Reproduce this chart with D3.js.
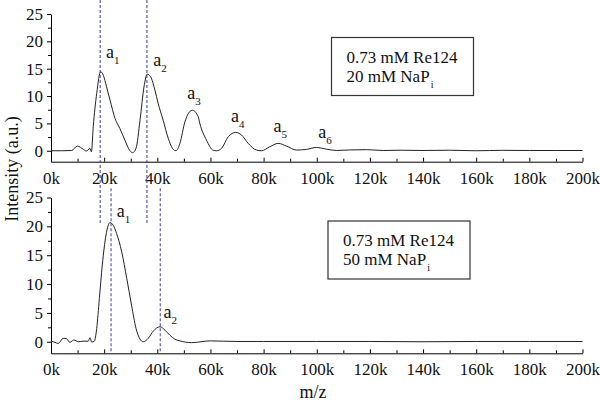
<!doctype html>
<html>
<head>
    <title>Intensity vs m/z</title>
    <script src="https://d3js.org/d3.v7.min.js"></script>
    <style>
      body { margin: 0; background: white; }
      text { font-family: "Liberation Serif", "Times New Roman", serif; fill: #111; }
    </style>
</head>
<body>
    <script>
    var width = 600, height = 401;

    // top panel: 20 mM NaPi  (m/z, intensity)
    var topMz  = [0, 4000, 7800, 9900, 12200, 13300, 14700, 15200, 15900, 17200, 18700, 19700, 20900, 22200, 24100, 25900, 27800, 29700, 30700, 32000, 33500, 35000, 36200, 37500, 39100, 40300, 42200, 44100, 46000, 47000, 48500, 50400, 52300, 53300, 55400, 56000, 58500, 61000, 62300, 64200, 66700, 69500, 71700, 74200, 77300, 79200, 82300, 85500, 88600, 92400, 96100, 99900, 103600, 107400, 112400, 118700, 125000, 132000, 140000, 150000, 160000, 170000, 180000, 190000, 200000];
    var topInt = [0, 0, 0.05, 0.86, 0.25, -0.05, 0.4, -0.2, 4.4, 10.5, 14.45, 13.8, 11.7, 9.3, 5.9, 4.1, 1.95, 0, -0.35, 0.45, 5.6, 11.7, 14.0, 13.5, 11.1, 8.7, 5.6, 2.3, 0.25, 0, 1.35, 5.3, 7.2, 7.4, 6.2, 5.0, 1.95, 0.1, 0, 0.44, 2.56, 3.35, 2.87, 1.35, 0.13, 0, 0.73, 1.35, 0.86, 0.13, 0.25, 0.6, 0.3, 0.05, 0.15, 0.2, 0.05, 0.1, 0.05, 0.1, 0.0, 0.08, 0.05, 0.05, 0.05];

    // bottom panel: 50 mM NaPi
    var botMz  = [0, 1500, 2700, 4600, 5900, 7100, 8600, 10300, 12100, 14000, 14700, 15300, 16300, 17200, 18200, 19300, 20700, 22200, 23400, 24700, 26600, 28500, 30300, 32000, 33500, 34700, 36600, 38500, 41000, 42900, 44700, 46600, 48500, 52900, 60000, 70000, 80000, 100000, 120000, 140000, 160000, 180000, 200000];
    var botInt = [0.1, -0.1, -0.3, 0.6, 0.5, -0.1, 0.3, 0.0, 0.1, 0.1, 0.7, -0.05, 0.1, 2.3, 7.5, 13.3, 18.5, 20.65, 20.2, 18.75, 15.6, 11.0, 6.35, 2.3, 0.46, 0, 0.6, 1.85, 2.6, 2.0, 1.15, 0.45, 0.15, -0.15, 0.15, 0.05, 0.05, 0.05, 0.05, 0.0, 0.05, 0.05, 0.05];

    // peak labels [m/z, intensity, subscript]
    var topPeaks = [[20700, 16.9, "1"], [38500, 15.55, "2"], [51300, 9.4, "3"], [67700, 5.2, "4"], [83700, 3.5, "5"], [100600, 2.4, "6"]];
    var botPeaks = [[24700, 21.7, "1"], [42300, 4.2, "2"]];

    // dashed guide positions (m/z)
    var topGuides = [18500, 36100];
    var botGuides = [22600, 41100];

    var xMajor = d3.range(0, 200001, 20000);
    var xMinor = d3.range(10000, 200000, 20000);
    var yMajor = [0, 5, 10, 15, 20, 25];
    var yMinor = [2.5, 7.5, 12.5, 17.5, 22.5];

    var svg = d3.select("body").append("svg")
                .attr("width", width)
                .attr("height", height);

    var x = d3.scaleLinear().domain([0, 200000]).range([51, 582.5]);
    var yTop = d3.scaleLinear().domain([-2, 25]).range([161.7, 14]);
    var yBot = d3.scaleLinear().domain([-2, 25]).range([353.3, 197.5]);

    function drawPanel(y, mz, inten, peaks, guides, guideTop, guideBottom, boxY, line2) {
      // x axis, ticks point inward
      var xAxis = svg.append("g").attr("transform", "translate(0," + y(-2) + ")")
        .call(d3.axisBottom(x).tickValues(xMajor).tickSizeInner(-4).tickSizeOuter(0).tickPadding(10)
              .tickFormat(function(d){ return (d / 1000) + "k"; }));
      svg.append("g").attr("transform", "translate(0," + y(-2) + ")")
        .call(d3.axisBottom(x).tickValues(xMinor).tickSizeInner(-3).tickSizeOuter(0).tickFormat(""))
        .select(".domain").remove();

      var yAxis = svg.append("g").attr("transform", "translate(" + x(0) + ",0)")
        .call(d3.axisLeft(y).tickValues(yMajor).tickSize(4).tickSizeOuter(0).tickPadding(4));
      svg.append("g").attr("transform", "translate(" + x(0) + ",0)")
        .call(d3.axisLeft(y).tickValues(yMinor).tickSize(3).tickFormat(""))
        .select(".domain").remove();

      svg.selectAll(".tick text").style("font-size", "17px").style("font-family", "Liberation Serif");

      // guides
      guides.forEach(function(g){
        svg.append("line")
          .attr("x1", x(g)).attr("x2", x(g))
          .attr("y1", guideTop).attr("y2", guideBottom)
          .attr("stroke", "#3c3c9c").attr("stroke-width", 1)
          .attr("stroke-dasharray", "3,2");
      });

      // curve
      var pts = mz.map(function(m, i){ return [m, inten[i]]; });
      svg.append("path")
        .datum(pts)
        .attr("d", d3.line().x(function(d){ return x(d[0]); }).y(function(d){ return y(d[1]); })
                  .curve(d3.curveMonotoneX))
        .attr("fill", "none").attr("stroke", "#222").attr("stroke-width", 1);

      // peak labels
      peaks.forEach(function(p){
        var t = svg.append("text").attr("x", x(p[0])).attr("y", y(p[1])).style("font-size", "18px");
        t.append("tspan").text("a");
        t.append("tspan").attr("dy", 6).style("font-size", "11px").text(p[2]);
      });

      // legend box
      var bx = boxY[0], by = boxY[1];
      svg.append("rect").attr("x", bx).attr("y", by).attr("width", 142).attr("height", 58)
        .attr("fill", "white").attr("stroke", "#333").attr("stroke-width", 1.2);
      svg.append("text").attr("x", bx + 15).attr("y", by + 25).style("font-size", "17px").text("0.73 mM Re124");
      var t2 = svg.append("text").attr("x", bx + 15).attr("y", by + 44).style("font-size", "17px");
      t2.append("tspan").text(line2);
      t2.append("tspan").attr("dy", 6).attr("dx", 1).style("font-size", "10px").text("i");
    }

    drawPanel(yTop, topMz, topInt, topPeaks, topGuides, 0, yBot(20.5), [331.5, 37.5], "20 mM NaP");
    drawPanel(yBot, botMz, botInt, botPeaks, botGuides, yBot(26.6), yBot(-2), [328, 221], "50 mM NaP");

    svg.append("text")
      .attr("transform", "translate(18,169) rotate(-90)")
      .attr("text-anchor", "middle")
      .style("font-size", "18px")
      .text("Intensity (a.u.)");

    svg.append("text")
      .attr("x", 313).attr("y", 398)
      .attr("text-anchor", "middle")
      .style("font-size", "18px")
      .text("m/z");
    </script>
</body>
</html>
